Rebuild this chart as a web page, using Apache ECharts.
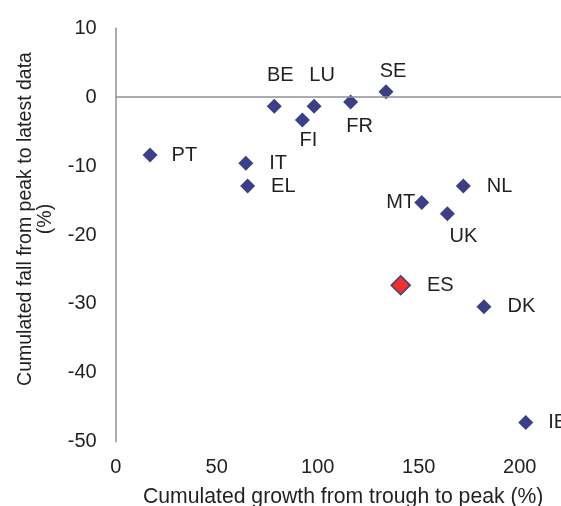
<!DOCTYPE html>
<html>
<head>
<meta charset="utf-8">
<script src="https://cdn.jsdelivr.net/npm/echarts@6/dist/echarts.min.js"></script>
<style>
  html, body { margin: 0; padding: 0; background: #ffffff; }
  #chart { width: 561px; height: 506px; }
</style>
</head>
<body>
<div id="chart"></div>
<script>
// Country codes, growth from trough to peak (%), fall from peak to latest data (%)
const countries = ['PT', 'BE', 'LU', 'FI', 'FR', 'SE', 'IT', 'EL', 'MT', 'NL', 'UK', 'ES', 'DK', 'IE'];
const growthTroughToPeak = [17.0, 78.5, 98.2, 92.4, 116.3, 133.8, 64.4, 65.3, 151.5, 172.1, 164.2, 141.1, 182.3, 203.0];
const fallPeakToLatest = [-8.4, -1.3, -1.3, -3.3, -0.7, 0.8, -9.6, -12.9, -15.3, -12.9, -16.9, -27.3, -30.4, -47.2];
const highlighted = ['ES'];

const xTicks = [0, 50, 100, 150, 200];
const yTicks = [-50, -40, -30, -20, -10, 0, 10];

const NAVY = '#3b3f88';
const RED = '#ec3229';
const INK = '#231f20';
const AXIS_GREY = '#8f9196';
const FONT = '"Liberation Sans", Arial, sans-serif';

// Where each country code sits relative to its marker: [position, distance, dx]
const labelSpot = {
  PT: ['right', 14, 0], BE: ['top', 13, 6], LU: ['top', 13, 8], FI: ['bottom', 3, 6],
  FR: ['bottom', 7, 9], SE: ['top', 3, 7], IT: ['right', 16, 0], EL: ['right', 16, 0],
  MT: ['left', -1, 0], NL: ['right', 16, 0], UK: ['bottom', 5, 16], ES: ['right', 16, 0],
  DK: ['right', 16, 0], IE: ['right', 15, 0]
};

const points = countries.map((c, i) => {
  const spot = labelSpot[c];
  const isHi = highlighted.includes(c);
  return {
    name: c,
    value: [growthTroughToPeak[i], fallPeakToLatest[i]],
    symbolSize: isHi ? 19 : 15,
    itemStyle: isHi
      ? { color: RED, borderColor: NAVY, borderWidth: 1.5, opacity: 1 }
      : { color: NAVY, opacity: 1 },
    label: { position: spot[0], distance: spot[1], offset: [spot[2], 0] }
  };
});

const chart = echarts.init(document.getElementById('chart'), null, { renderer: 'canvas' });

chart.setOption({
  animation: false,
  backgroundColor: '#ffffff',
  textStyle: { fontFamily: FONT },
  // the plot area runs on past the right edge of the canvas
  grid: { left: 115.7, top: 28.3, width: 505, height: 413.4, containLabel: false, outerBoundsMode: 'none' },
  xAxis: {
    type: 'value',
    min: xTicks[0],
    max: 250,
    interval: xTicks[1] - xTicks[0],
    name: 'Cumulated growth from trough to peak (%)',
    nameLocation: 'middle',
    nameGap: 45,
    nameTextStyle: { color: INK, fontSize: 21.2, fontFamily: FONT, padding: [0, 50, 0, 0] },
    axisLine: { show: false },
    axisTick: { show: false },
    splitLine: { show: false },
    axisLabel: {
      color: INK, fontSize: 20, fontFamily: FONT, margin: 16,
      formatter: v => (xTicks.includes(v) ? String(v) : '')
    }
  },
  yAxis: {
    type: 'value',
    min: yTicks[0],
    max: yTicks[yTicks.length - 1],
    interval: 10,
    name: 'Cumulated fall from peak to latest data\n(%)',
    nameLocation: 'middle',
    nameRotate: 90,
    nameGap: 60,
    nameTextStyle: { color: INK, fontSize: 19.5, fontFamily: FONT, lineHeight: 20, padding: [0, 0, 0, 32] },
    axisLine: { show: true, onZero: false, lineStyle: { color: AXIS_GREY, width: 1.5 } },
    axisTick: { show: false },
    splitLine: { show: false },
    axisLabel: { color: INK, fontSize: 20, fontFamily: FONT, margin: 19 }
  },
  series: [{
    type: 'scatter',
    symbol: 'diamond',
    data: points,
    itemStyle: { opacity: 1 },
    label: {
      show: true,
      formatter: p => p.name,
      color: INK,
      fontSize: 20,
      fontFamily: FONT
    },
    emphasis: { disabled: true },
    markLine: {
      silent: true,
      symbol: ['none', 'none'],
      label: { show: false },
      lineStyle: { color: AXIS_GREY, width: 1.5, type: 'solid' },
      data: [{ yAxis: 0 }]
    },
    z: 3
  }]
});
</script>
</body>
</html>
